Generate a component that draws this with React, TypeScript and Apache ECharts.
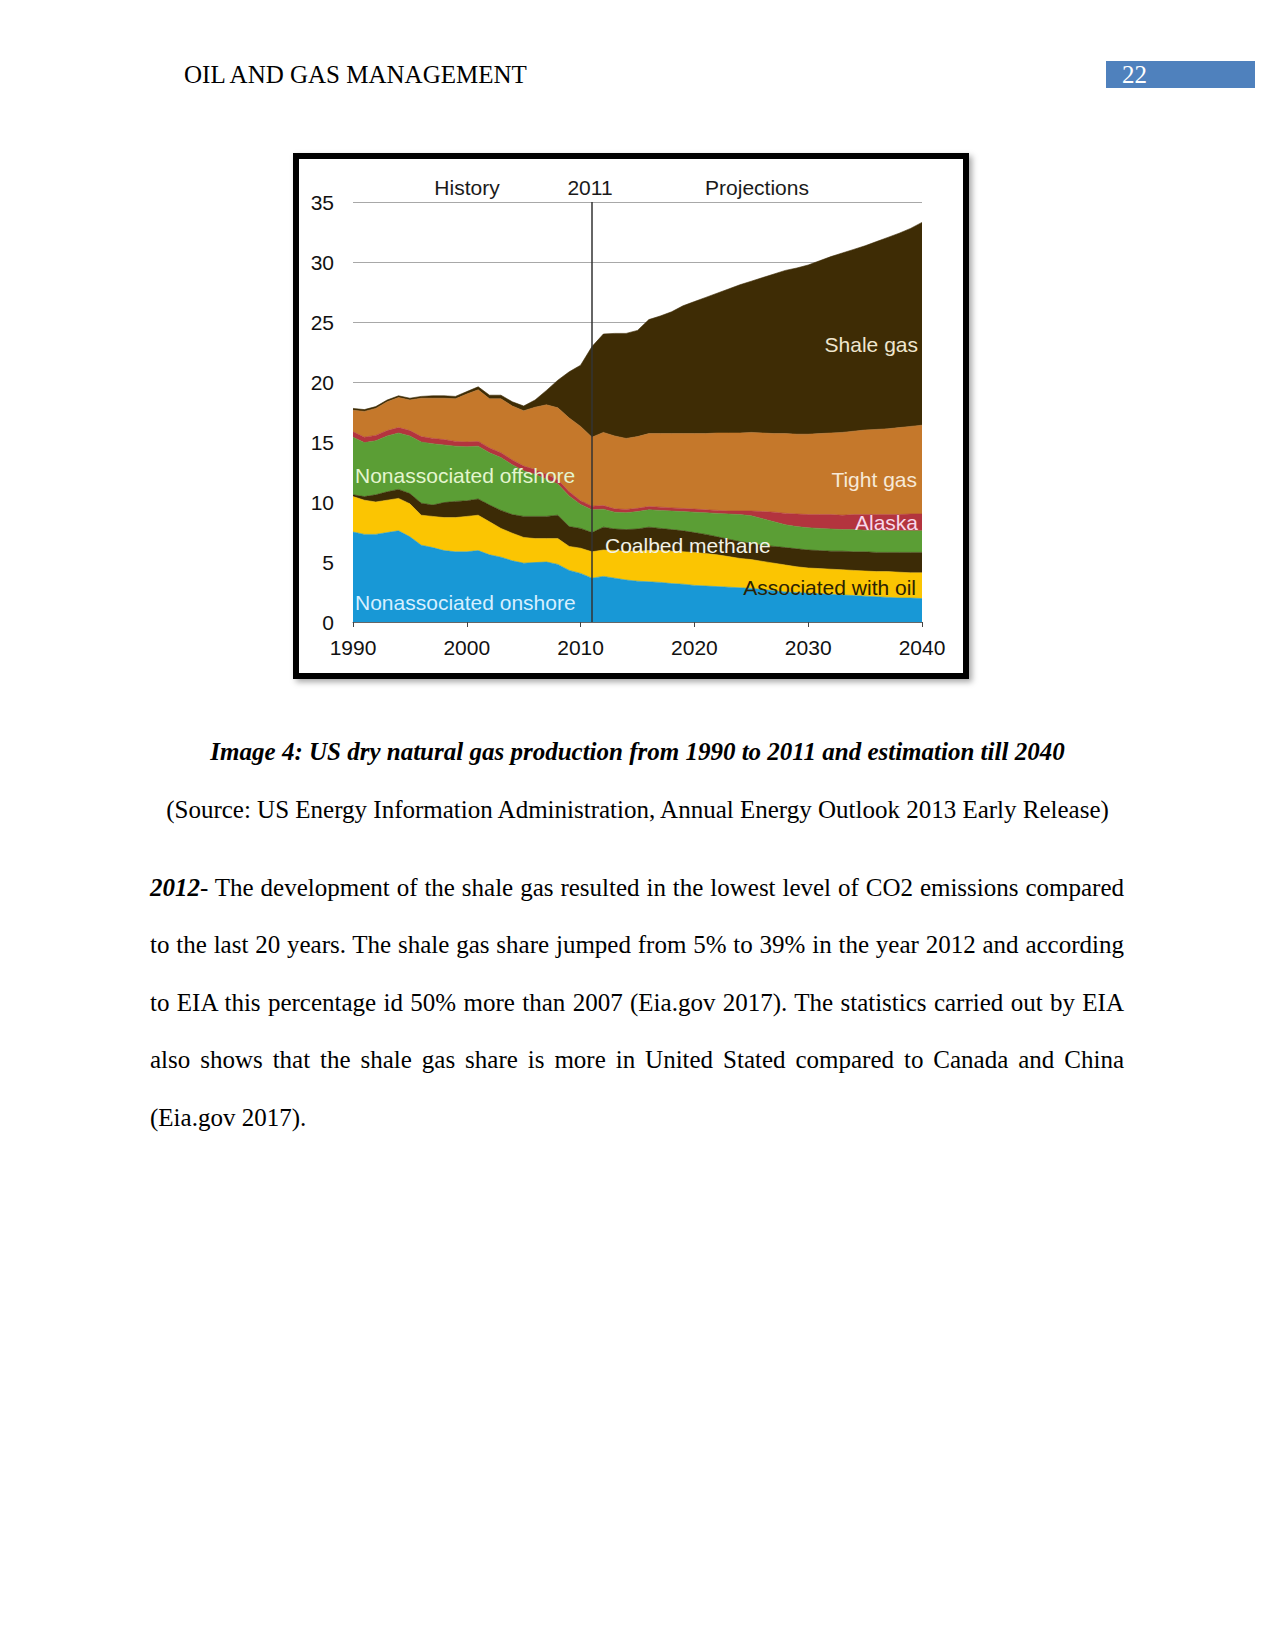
import React, { useEffect, useRef } from "react";
import * as echarts from "echarts";

const years = [
  1990, 1991, 1992, 1993, 1994, 1995, 1996, 1997, 1998, 1999,
  2000, 2001, 2002, 2003, 2004, 2005, 2006, 2007, 2008, 2009,
  2010, 2011, 2012, 2013, 2014, 2015, 2016, 2017, 2018, 2019,
  2020, 2021, 2022, 2023, 2024, 2025, 2026, 2027, 2028, 2029,
  2030, 2031, 2032, 2033, 2034, 2035, 2036, 2037, 2038, 2039, 2040,
];

const onshore = [
  7.5, 7.3, 7.3, 7.45, 7.6, 7.1, 6.4, 6.2, 5.95, 5.85, 5.85, 5.95, 5.6, 5.4, 5.1, 4.9, 4.95, 5.0, 4.8, 4.3, 4.05, 3.65,
  3.8, 3.65, 3.5, 3.4, 3.35, 3.3, 3.2, 3.15, 3.05, 3.0, 2.95, 2.9, 2.85, 2.8, 2.7, 2.6, 2.5, 2.45, 2.4, 2.35, 2.3, 2.25, 2.2, 2.15, 2.1, 2.05, 2.0, 2.0, 1.95,
];
const associated = [
  2.95, 2.85, 2.7, 2.7, 2.7, 2.75, 2.5, 2.6, 2.75, 2.85, 2.95, 2.95, 2.75, 2.4, 2.3, 2.15, 2.0, 1.95, 2.15, 2.0, 2.1, 2.2,
  2.2, 2.3, 2.4, 2.5, 2.6, 2.65, 2.7, 2.7, 2.75, 2.7, 2.65, 2.55, 2.45, 2.4, 2.35, 2.3, 2.25, 2.15, 2.1, 2.1, 2.1, 2.1, 2.1, 2.1, 2.1, 2.15, 2.15, 2.1, 2.15,
];
const coalbed = [
  0.15, 0.3, 0.6, 0.7, 0.75, 0.85, 1.0, 0.95, 1.25, 1.35, 1.3, 1.35, 1.4, 1.5, 1.55, 1.75, 1.85, 1.85, 1.95, 1.65, 1.65, 1.6,
  1.9, 1.8, 1.8, 1.85, 1.95, 1.85, 1.8, 1.75, 1.65, 1.6, 1.5, 1.45, 1.4, 1.35, 1.35, 1.4, 1.45, 1.5, 1.5, 1.5, 1.5, 1.55, 1.55, 1.6, 1.6, 1.6, 1.65, 1.7, 1.7,
];
const offshore = [
  4.8, 4.5, 4.5, 4.65, 4.7, 4.8, 5.1, 5.1, 4.8, 4.6, 4.5, 4.4, 4.35, 4.4, 4.15, 3.8, 3.5, 3.1, 2.6, 2.55, 2.0, 1.9,
  1.5, 1.4, 1.4, 1.45, 1.45, 1.5, 1.55, 1.6, 1.7, 1.8, 1.95, 2.1, 2.25, 2.3, 2.2, 2.05, 1.9, 1.85, 1.85, 1.85, 1.85, 1.8, 1.85, 1.8, 1.85, 1.8, 1.8, 1.8, 1.8,
];
const alaska = [
  0.45, 0.45, 0.45, 0.45, 0.45, 0.45, 0.45, 0.45, 0.45, 0.4, 0.4, 0.4, 0.4, 0.4, 0.4, 0.4, 0.4, 0.4, 0.35, 0.35, 0.3, 0.3,
  0.3, 0.28, 0.28, 0.27, 0.27, 0.27, 0.26, 0.26, 0.26, 0.25, 0.25, 0.25, 0.3, 0.4, 0.6, 0.8, 0.95, 1.05, 1.1, 1.15, 1.2, 1.2, 1.25, 1.3, 1.3, 1.35, 1.35, 1.4, 1.4,
];
const tight = [
  1.8, 2.15, 2.25, 2.4, 2.5, 2.55, 3.2, 3.35, 3.45, 3.55, 4.0, 4.3, 4.1, 4.5, 4.5, 4.6, 5.2, 5.8, 6.0, 6.15, 6.2, 5.75,
  6.1, 6.07, 5.92, 5.98, 6.08, 6.13, 6.19, 6.24, 6.29, 6.35, 6.45, 6.5, 6.5, 6.55, 6.55, 6.55, 6.65, 6.65, 6.7, 6.75, 6.8, 6.9, 6.95, 7.05, 7.1, 7.15, 7.25, 7.3, 7.4,
];
const shale = [
  0.15, 0.15, 0.15, 0.15, 0.15, 0.15, 0.15, 0.2, 0.2, 0.2, 0.2, 0.25, 0.3, 0.3, 0.35, 0.4, 0.6, 1.2, 2.3, 3.85, 5.1, 7.55,
  8.2, 8.55, 8.75, 8.85, 9.5, 9.8, 10.15, 10.65, 11.0, 11.35, 11.65, 12.0, 12.35, 12.6, 12.95, 13.3, 13.6, 13.85, 14.1, 14.4, 14.7, 14.95, 15.15, 15.35, 15.65, 15.95, 16.2, 16.5, 16.9,
];

const seriesNames = [
  "Nonassociated onshore",
  "Associated with oil",
  "Coalbed methane",
  "Nonassociated offshore",
  "Alaska",
  "Tight gas",
  "Shale gas",
];
const seriesValues = [onshore, associated, coalbed, offshore, alaska, tight, shale];
const seriesColors = ["#1898d6", "#fbc502", "#3c2b06", "#5b9e35", "#b3343e", "#c5782b", "#3e2c05"];

const yTicks = { min: 0, max: 35, interval: 5 };
const xLabelEvery = 10;
const dividerYear = "2011";
const headerLabels = ["History", "2011", "Projections"];

const SANS = '"Liberation Sans", Arial, Helvetica, sans-serif';

function txt(text: string, x: number, y: number, align: string, fill: string, size = 21) {
  return {
    type: "text",
    x,
    y,
    z: 100,
    style: {
      text,
      fill,
      font: `${size}px ${SANS}`,
      align,
      verticalAlign: "middle",
      textAlign: align,
      textVerticalAlign: "middle",
    },
  };
}

export default function App() {
  const ref = useRef<HTMLDivElement>(null);

  useEffect(() => {
    if (!ref.current) return;
    const chart = echarts.init(ref.current, null, { renderer: "svg" });
    const series: any[] = seriesNames.map((name, i) => ({
      name,
      type: "line",
      stack: "total",
      symbol: "none",
      showSymbol: false,
      smooth: false,
      data: seriesValues[i],
      lineStyle: { width: 0.6, color: seriesColors[i] },
      areaStyle: { color: seriesColors[i], opacity: 1 },
      itemStyle: { color: seriesColors[i] },
    }));
    series[series.length - 1].markLine = {
      silent: true,
      symbol: "none",
      label: { show: false },
      lineStyle: { color: "#333", width: 1.5, type: "solid" },
      data: [{ xAxis: dividerYear }],
    };

    chart.setOption({
      animation: false,
      backgroundColor: "#ffffff",
      grid: { left: 54, top: 43, width: 569, height: 420 },
      xAxis: {
        type: "category",
        data: years.map(String),
        boundaryGap: false,
        axisLine: { show: true, lineStyle: { color: "#666", width: 1 } },
        axisTick: { show: true, length: 5, interval: xLabelEvery - 1, lineStyle: { color: "#444" } },
        axisLabel: {
          fontSize: 21,
          color: "#111",
          fontFamily: SANS,
          margin: 15,
          interval: xLabelEvery - 1,
        },
        splitLine: { show: false },
      },
      yAxis: {
        type: "value",
        min: yTicks.min,
        max: yTicks.max,
        interval: yTicks.interval,
        axisLine: { show: false },
        axisTick: { show: false },
        axisLabel: { fontSize: 21, color: "#111", fontFamily: SANS, margin: 19 },
        splitLine: { show: true, lineStyle: { color: "#a8a8a8", width: 1 } },
      },
      series,
      graphic: [
        txt(headerLabels[0], 168, 28, "center", "#1a1a1a"),
        txt(headerLabels[1], 291, 28, "center", "#1a1a1a"),
        txt(headerLabels[2], 458, 28, "center", "#1a1a1a"),
        txt("Shale gas", 619, 185, "right", "#efe6cf"),
        txt("Tight gas", 618, 320, "right", "#f7e9d7"),
        txt("Alaska", 619, 363, "right", "#f8d8ea"),
        txt("Associated with oil", 617, 428, "right", "#2b2204"),
        txt("Coalbed methane", 306, 386, "left", "#f2f2e6"),
        txt("Nonassociated offshore", 56, 316, "left", "#e4f5cf"),
        txt("Nonassociated onshore", 56, 443, "left", "#d6efff"),
      ],
    });
    return () => chart.dispose();
  }, []);

  const serif = '"Liberation Serif", "Times New Roman", Times, serif';
  const lineStyle = (top: number, last = false): React.CSSProperties => ({
    position: "absolute",
    left: 150,
    top,
    width: 974,
    fontSize: 25,
    lineHeight: "30px",
    whiteSpace: "nowrap",
    textAlign: last ? "left" : "justify",
    textAlignLast: last ? "left" : "justify",
  } as React.CSSProperties);

  return (
    <div
      style={{
        position: "absolute",
        left: 0,
        top: 0,
        width: 1275,
        height: 1650,
        background: "#fff",
        fontFamily: serif,
        color: "#000",
        overflow: "hidden",
      }}
    >
      <div style={{ position: "absolute", left: 184, top: 60, fontSize: 25, lineHeight: "30px", whiteSpace: "nowrap" }}>
        OIL AND GAS MANAGEMENT
      </div>
      <div style={{ position: "absolute", left: 1106, top: 61, width: 149, height: 27, background: "#4f81bd" }} />
      <div style={{ position: "absolute", left: 1122, top: 60, fontSize: 25, lineHeight: "30px", color: "#fff" }}>22</div>

      <div
        style={{
          position: "absolute",
          left: 293,
          top: 153,
          width: 676,
          height: 526,
          boxSizing: "border-box",
          border: "6px solid #000",
          boxShadow: "3px 3px 6px rgba(0,0,0,0.35)",
          background: "#fff",
        }}
      >
        <div ref={ref} style={{ width: 664, height: 514 }} />
      </div>

      <div
        style={{
          position: "absolute",
          left: 0,
          width: 1275,
          top: 737,
          textAlign: "center",
          fontSize: 25,
          lineHeight: "30px",
          fontWeight: "bold",
          fontStyle: "italic",
          whiteSpace: "nowrap",
        }}
      >
        Image 4: US dry natural gas production from 1990 to 2011 and estimation till 2040
      </div>
      <div
        style={{
          position: "absolute",
          left: 0,
          width: 1275,
          top: 795,
          textAlign: "center",
          fontSize: 25,
          lineHeight: "30px",
          whiteSpace: "nowrap",
        }}
      >
        (Source: US Energy Information Administration, Annual Energy Outlook 2013 Early Release)
      </div>

      <div style={lineStyle(873)}>
        <b><i>2012</i></b>- The development of the shale gas resulted in the lowest level of CO2 emissions compared
      </div>
      <div style={lineStyle(930)}>
        to the last 20 years. The shale gas share jumped from 5% to 39% in the year 2012 and according
      </div>
      <div style={lineStyle(988)}>
        to EIA this percentage id 50% more than 2007 (Eia.gov 2017). The statistics carried out by EIA
      </div>
      <div style={lineStyle(1045)}>
        also shows that the shale gas share is more in United Stated compared to Canada and China
      </div>
      <div style={lineStyle(1103, true)}>(Eia.gov 2017).</div>
    </div>
  );
}
